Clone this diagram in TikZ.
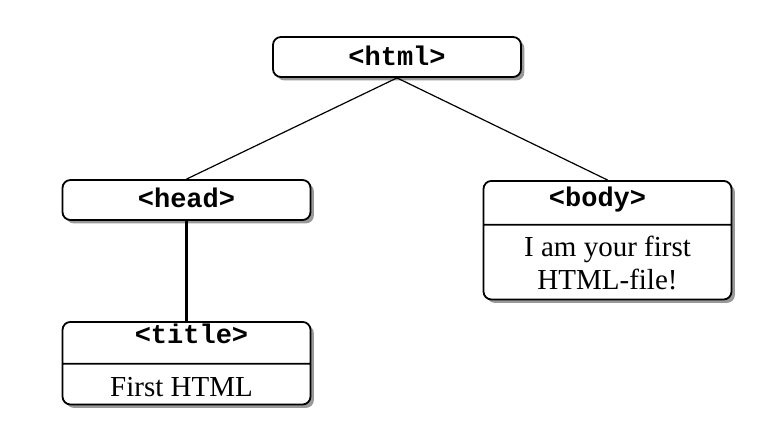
\documentclass[tikz,border=0pt]{standalone}
\usepackage{fontspec}
\setmainfont{Liberation Serif}
\setmonofont{Liberation Mono}
\usetikzlibrary{shapes.multipart,shadows}

\tikzset{
  tag/.style={draw,line width=0.9pt,rounded corners=4pt,fill=white,
    drop shadow={shadow xshift=1.7pt,shadow yshift=-1.7pt,fill=black!40,opacity=1},
    minimum width=124pt,inner xsep=0pt,inner ysep=0pt},
  tagname/.style={tag,font=\fontsize{13.5}{16}\selectfont\ttfamily\bfseries},
  tagsplit/.style={tag,rectangle split,rectangle split parts=2,align=center,
    font=\fontsize{14.5}{16.5}\selectfont},
  link/.style={line width=0.6pt},
  stem/.style={line width=1.3pt}
}
\newcommand{\tagfont}{\fontsize{13.5}{16}\selectfont\ttfamily\bfseries}

\begin{document}
\begin{tikzpicture}[x=0.5pt,y=-0.5pt]
    \useasboundingbox (0,0) rectangle (774,420);
    \node[tagname] (html) at (397,57) {\rule[-6pt]{0pt}{20pt}<html>\hspace{8pt}};
    \node[tagname] (head) at (186.5,200) {\rule[-6.5pt]{0pt}{20pt}<head>\hspace{6pt}};
    \node[tagsplit,anchor=north] (body) at (607.5,180)
        {\rule[-8.5pt]{0pt}{21pt}{\tagfont <body>}\hspace{10pt}
         \nodepart{two}\rule{0pt}{15.5pt}I am your first\\HTML-file!\rule[-4.5pt]{0pt}{4.5pt}};
    \node[tagsplit,anchor=north] (title) at (186.5,321)
        {\rule[-9.5pt]{0pt}{20pt}\hspace{5pt}{\tagfont <title>}
         \nodepart{two}\rule[-3.5pt]{0pt}{19.5pt}First HTML\hspace{5pt}};
    % tree edges
    \draw[link] (html.south) -- (head.north);
    \draw[link] (html.south) -- (body.north);
    \draw[stem] (head.south) -- (title.north);
\end{tikzpicture}
\end{document}
